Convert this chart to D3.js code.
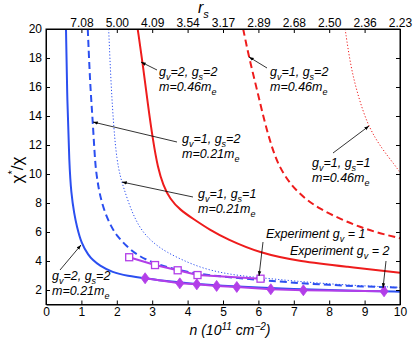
<!DOCTYPE html>
<html>
<head>
<meta charset="utf-8">
<script src="https://cdn.jsdelivr.net/npm/d3@7"></script>
<style>
  body { margin: 0; background: #fff; }
  text { font-family: "Liberation Sans", Arial, sans-serif; }
</style>
</head>
<body>
<div id="chart"></div>
<script>
const w = 415, h = 342;
const margin = {left: 46, right: 15, top: 29, bottom: 37.5};

// theory curves: [n (1e11 cm^-2), chi*/chi]
const blueSolid = [[0.565,20],[0.6,15],[0.66,10.6],[0.71,8.7],[0.8,7.2],[0.87,6.4],[1.0,5.2],[1.2,4.4],[1.32,4.07],[1.5,3.7],[1.88,3.2],[2.3,2.98],[2.82,2.8],[3.5,2.58],[4,2.46],[5,2.29],[6,2.16],[7,2.06],[8,1.99],[9,1.93],[10,1.88]];
const blueDashed = [[1.18,20],[1.25,16],[1.32,13.7],[1.39,10.6],[1.45,9.6],[1.51,8.67],[1.65,7.4],[1.84,6.37],[2.0,5.75],[2.26,5.05],[2.6,4.35],[3.1,3.8],[3.6,3.45],[4.3,3.1],[5.1,2.9],[6.05,2.69],[7,2.5],[8,2.35],[9,2.24],[10,2.16]];
const blueDotted = [[1.77,20],[1.84,16],[1.92,13],[2.0,11.0],[2.1,9.8],[2.2,9.0],[2.35,7.9],[2.5,7.0],[2.7,6.1],[3.0,5.3],[3.4,4.6],[4.0,3.9],[4.5,3.45],[5.0,3.17],[5.5,2.98],[6.05,2.85],[7,2.62],[8,2.42],[9,2.28],[10,2.18]];
const redSolid = [[2.59,20],[2.73,17.66],[2.88,14.76],[3.02,12.34],[3.16,10.41],[3.31,9.24],[3.5,8.28],[3.79,7.52],[4.16,6.9],[4.63,6.14],[5.1,5.52],[6.05,4.53],[7.18,3.97],[8.49,3.61],[10,3.19]];
const redDashed = [[5.57,20],[5.74,17.98],[5.96,15.83],[6.16,13.72],[6.36,12.0],[6.56,10.62],[6.89,9.31],[7.32,8.28],[7.74,7.59],[8.31,6.9],[8.87,6.34],[9.44,5.9],[10,5.57]];
const redDotted = [[8.45,20],[8.6,17.5],[8.8,15.5],[9.1,13.26],[9.5,11.7],[9.86,10.6],[10,10.1]];

// experiments
const expGv1 = [[2.35,4.26],[3.08,3.72],[3.72,3.36],[4.28,3.03],[6.06,2.78]];
const expGv2 = [[2.8,2.81],[3.78,2.46],[4.26,2.39],[4.82,2.28],[5.39,2.21],[6.35,2.05],[7.27,1.98],[9.55,1.91]];

const xTicks = [0,1,2,3,4,5,6,7,8,9,10];
const yTicks = [2,4,6,8,10,12,14,16,18,20];
const rsTicks = [1,2,3,4,5,6,7,8,9,10];
const rsLabels = ["7.08","5.00","4.09","3.54","3.17","2.89","2.68","2.50","2.36","2.23"];

const blue = "#2b4ff0", red = "#ee1c1c", purple = "#b23ee8";

const svg = d3.select("#chart").append("svg").attr("width", w).attr("height", h);

const x = d3.scaleLinear().domain([0,10]).range([margin.left, w - margin.right]);
const y = d3.scaleLinear().domain([1,20]).range([h - margin.bottom, margin.top]);

svg.append("defs").append("clipPath").attr("id","clip")
   .append("rect").attr("x", x(0)).attr("y", y(20))
   .attr("width", x(10)-x(0)).attr("height", y(1)-y(20));

const line = d3.line().x(d => x(d[0])).y(d => y(d[1])).curve(d3.curveBasis);
const plot = svg.append("g").attr("clip-path","url(#clip)");

function curve(data, color, width, dash) {
  plot.append("path").datum(data).attr("d", line)
      .attr("fill","none").attr("stroke", color).attr("stroke-width", width)
      .attr("stroke-dasharray", dash);
}
curve(redDotted, red, 1, "1.2,2");
curve(redDashed, red, 2, "7,4");
curve(redSolid, red, 2, null);
curve(blueDotted, blue, 1, "1.2,2");
curve(blueDashed, blue, 2, "7,4");
curve(blueSolid, blue, 2, null);

// experiment gv=1 : open squares
plot.append("path").datum(expGv1).attr("d", d3.line().x(d => x(d[0])).y(d => y(d[1])))
    .attr("fill","none").attr("stroke", purple).attr("stroke-width", 2);
plot.selectAll(".sq").data(expGv1).enter().append("rect")
    .attr("x", d => x(d[0]) - 3.5).attr("y", d => y(d[1]) - 3.5)
    .attr("width", 7).attr("height", 7)
    .attr("fill","#fff").attr("stroke", purple).attr("stroke-width", 1.3);

// experiment gv=2 : filled diamonds
plot.append("path").datum(expGv2).attr("d", d3.line().x(d => x(d[0])).y(d => y(d[1])))
    .attr("fill","none").attr("stroke", purple).attr("stroke-width", 2);
plot.selectAll(".dm").data(expGv2).enter().append("path")
    .attr("d", d => {
      const cx = x(d[0]), cy = y(d[1]);
      return `M${cx},${cy-5.5}L${cx+4},${cy}L${cx},${cy+5.5}L${cx-4},${cy}Z`;
    })
    .attr("fill", purple).attr("stroke", purple).attr("stroke-width", 0.8);

// axes box with inward ticks
const axisStyle = g => {
  g.select(".domain").attr("stroke","#000");
  g.selectAll(".tick line").attr("stroke","#000");
  g.selectAll(".tick text").attr("font-size", 12).attr("fill","#000")
   .attr("font-family", "'Liberation Sans', Arial, sans-serif");
};
svg.append("g").attr("transform", `translate(0,${y(1)})`)
   .call(d3.axisBottom(x).tickValues(xTicks).tickSizeInner(-4).tickSizeOuter(0).tickPadding(3))
   .call(axisStyle);
svg.append("g").attr("transform", `translate(${x(0)},0)`)
   .call(d3.axisLeft(y).tickValues(yTicks).tickSizeInner(-4).tickSizeOuter(0).tickPadding(4))
   .call(axisStyle);
svg.append("g").attr("transform", `translate(${x(10)},0)`)
   .call(d3.axisRight(y).tickValues(yTicks).tickSizeInner(-4).tickSizeOuter(0).tickFormat(""))
   .call(axisStyle);
svg.append("g").attr("transform", `translate(0,${y(20)})`)
   .call(d3.axisTop(x).tickValues(rsTicks).tickSizeInner(-4).tickSizeOuter(0).tickPadding(2)
         .tickFormat((d, i) => rsLabels[i]))
   .call(axisStyle);
svg.append("rect").attr("x", x(0)).attr("y", y(20))
   .attr("width", x(10)-x(0)).attr("height", y(1)-y(20))
   .attr("fill","none").attr("stroke","#000").attr("stroke-width",1);

// axis titles
const xl = svg.append("text").attr("x", 230).attr("y", 335).attr("text-anchor","middle")
   .attr("font-size", 14).attr("font-style","italic");
xl.append("tspan").text("n (10");
xl.append("tspan").attr("dy",-5).attr("font-size",10).text("11");
xl.append("tspan").attr("dy",5).text(" cm");
xl.append("tspan").attr("dy",-5).attr("font-size",10).text("\u22122");
xl.append("tspan").attr("dy",5).text(")");

const rl = svg.append("text").attr("x", 198).attr("y", 13).attr("font-size", 16).attr("font-style","italic");
rl.append("tspan").text("r");
rl.append("tspan").attr("dy",5).attr("font-size",11).text("s");

const yl = svg.append("text").attr("transform","translate(23,170) rotate(-90)")
   .attr("text-anchor","middle").attr("font-size", 17);
yl.append("tspan").text("\u03c7");
yl.append("tspan").attr("dy",-7).attr("font-size",11).text("*");
yl.append("tspan").attr("dy",7).text("/\u03c7");

// annotations
svg.append("defs").append("marker").attr("id","ah").attr("viewBox","0 0 10 10")
   .attr("refX",10).attr("refY",5).attr("markerWidth",6).attr("markerHeight",6)
   .attr("orient","auto").append("path").attr("d","M0,1.5L10,5L0,8.5Z").attr("fill","#000");

function arrow(x1, y1, x2, y2) {
  svg.append("line").attr("x1",x1).attr("y1",y1).attr("x2",x2).attr("y2",y2)
     .attr("stroke","#000").attr("stroke-width",0.8).attr("marker-end","url(#ah)");
}
function gLabel(tx, ty, gv, gs, m) {
  const t = svg.append("text").attr("x", tx).attr("y", ty).attr("font-size", 12.5).attr("font-style","italic");
  t.append("tspan").text("g");
  t.append("tspan").attr("dy",4).attr("font-size",9).text("v");
  t.append("tspan").attr("dy",-4).text("=" + gv + ", g");
  t.append("tspan").attr("dy",4).attr("font-size",9).text("s");
  t.append("tspan").attr("dy",-4).text("=" + gs);
  const t2 = svg.append("text").attr("x", tx).attr("y", ty + 15).attr("font-size", 12.5).attr("font-style","italic");
  t2.append("tspan").text("m=" + m + "m");
  t2.append("tspan").attr("dy",4).attr("font-size",9).text("e");
}
function expLabel(tx, ty, gv) {
  const t = svg.append("text").attr("x", tx).attr("y", ty).attr("font-size", 12.5).attr("font-style","italic");
  t.append("tspan").text("Experiment g");
  t.append("tspan").attr("dy",4).attr("font-size",9).text("v");
  t.append("tspan").attr("dy",-4).text(" = " + gv);
}

gLabel(159, 76, 2, 2, "0.46"); arrow(157, 70, 141, 62);
gLabel(270, 76, 1, 2, "0.46"); arrow(267, 68, 249, 57);
gLabel(182, 143, 1, 2, "0.21"); arrow(177, 142, 93, 122);
gLabel(198, 198, 1, 1, "0.21"); arrow(193, 197, 122, 182);
gLabel(312, 167, 1, 1, "0.46"); arrow(333, 153, 369, 126);
gLabel(52, 280, 2, 2, "0.21"); arrow(60, 270, 81, 245);
expLabel(266, 238, 1); arrow(263, 242, 259, 276);
expLabel(290, 255, 2); arrow(386, 261, 383, 288);
</script>
</body>
</html>
